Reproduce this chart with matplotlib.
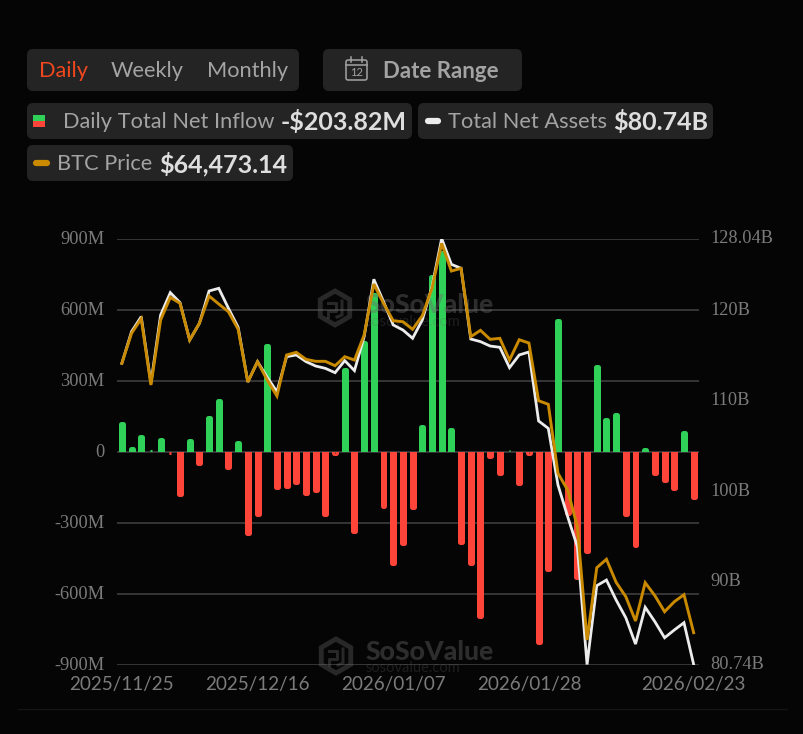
import matplotlib
matplotlib.use('Agg')
from matplotlib import pyplot as plt
from matplotlib.patches import FancyBboxPatch, Rectangle, RegularPolygon
from matplotlib.transforms import ScaledTranslation

# daily net inflow in millions, 60 trading days
inflow = [127, 21, 70, 8, 58, -13, -191, 54, -58, 151,
          222, -75, 48, -355, -276, 456, -159, -156, -141, -186,
          -173, -275, -17, 355, -346, 469, 673, -241, -483, -396,
          -246, 115, 750, 849, 100, -391, -480, -705, -30, -101,
          7, -145, -17, -814, -507, 560, -269, -541, -431, 369,
          144, 165, -275, -407, 15, -101, -131, -163, 87, -203.82]

# total net assets in billions
assets = [114.18, 117.70, 119.36, 111.96, 119.55, 122.03, 120.92, 116.77, 118.62, 122.21,
          122.51, 120.29, 118.18, 112.11, 114.37, 112.63, 111.03, 114.92, 115.11, 114.37,
          113.88, 113.62, 113.14, 114.48, 113.37, 117.14, 123.51, 121.03, 118.44, 117.88,
          116.96, 118.99, 122.69, 128.04, 125.17, 124.73, 116.88, 116.59, 116.10, 115.96,
          113.70, 115.11, 115.44, 107.78, 106.96, 100.67, 97.15, 93.82, 80.74, 89.49,
          90.12, 87.90, 85.93, 83.01, 87.09, 85.49, 83.71, 84.57, 85.38, 80.74]

# btc price in dollars
btc = [87372, 89922, 91163, 85528, 91053, 92982, 92472, 89353, 90772, 93093,
       92413, 91758, 90262, 85783, 87508, 85953, 84593, 88078, 88307, 87712,
       87542, 87542, 87168, 87933, 87653, 89778, 94113, 92472, 90993, 90908,
       90262, 91418, 93747, 97572, 95218, 95447, 89633, 90177, 89412, 89497,
       87653, 89378, 89098, 84193, 83887, 78022, 76603, 73483, 63853, 69998,
       70712, 68757, 67533, 65468, 68723, 67618, 66258, 67108, 67703, 64473.14]

left_ticks = [-900, -600, -300, 0, 300, 600, 900]
left_labels = ['-900M', '-600M', '-300M', '0', '300M', '600M', '900M']
right_ticks = [80.74, 90, 100, 110, 120, 128.04]
right_labels = ['80.74B', '90B', '100B', '110B', '120B', '128.04B']
date_ticks = [0, 14, 28, 42, 59]
date_labels = ['2025/11/25', '2025/12/16', '2026/01/07', '2026/01/28', '2026/02/23']

W, H = 804, 734
BG = '#050505'
PANEL = '#242424'
GREEN = '#30d158'
RED = '#ff453a'
GOLD = '#c98a00'
WHITE = '#ececec'
GREY = '#a3a3a3'
TICK = '#7b7b7b'
VALUE = '#dedede'

fig = plt.figure(figsize=(W / 100, H / 100), dpi=100, facecolor=BG)

# overlay in pixel coordinates for the toolbar and legend pills
ui = fig.add_axes([0, 0, 1, 1])
ui.set_xlim(0, W)
ui.set_ylim(H, 0)
ui.axis('off')


def pill(x0, y0, x1, y1):
    ui.add_patch(FancyBboxPatch((x0 + 6, y0 + 6), x1 - x0 - 12, y1 - y0 - 12,
                                boxstyle='round,pad=6,rounding_size=6',
                                fc=PANEL, ec='none'))


def label(x, y, s, color=GREY, size=15.7, weight='normal'):
    ui.text(x, y + 2, s, color=color, fontsize=size, fontweight=weight,
            family='Lato', va='center', ha='left')


pill(27, 49, 299, 91)
pill(323, 49, 522, 91)
pill(27, 103, 412, 139)
pill(418, 103, 713, 139)
pill(27, 145, 293, 181)

label(39, 69, 'Daily', color='#f0471e')
label(111, 69, 'Weekly')
label(207, 69, 'Monthly')
label(383, 69, 'Date Range', size=16, weight='bold')

# calendar icon
ui.add_patch(FancyBboxPatch((346, 60), 21, 20, boxstyle='round,pad=0,rounding_size=2',
                            fc='none', ec=GREY, lw=1.1))
ui.plot([346, 367], [65, 65], color=GREY, lw=1.1)
ui.plot([351, 351], [57, 62], color=GREY, lw=1.1)
ui.plot([362, 362], [57, 62], color=GREY, lw=1.1)
ui.text(356.5, 73, '12', color=GREY, fontsize=8, family='Lato', ha='center', va='center')

ui.add_patch(Rectangle((33, 115), 12, 6, fc=GREEN, ec='none'))
ui.add_patch(Rectangle((33, 121), 12, 6, fc=RED, ec='none'))
label(63, 120, 'Daily Total Net Inflow')
label(281, 120, '-$203.82M', color=VALUE, size=18, weight='bold')

ui.plot([428, 438], [121, 121], color=WHITE, lw=4.5, solid_capstyle='round')
label(448, 120, 'Total Net Assets')
label(613, 120, '$80.74B', color=VALUE, size=18, weight='bold')

ui.plot([36, 47], [163, 163], color=GOLD, lw=4.5, solid_capstyle='round')
label(57, 162, 'BTC Price')
label(159, 162, '$64,473.14', color=VALUE, size=18, weight='bold')

ui.plot([18, 787], [709, 709], color='#141414', lw=1)

# chart axes
ax = fig.add_axes([117 / W, 1 - 664.5 / H, (699 - 117) / W, 426 / H])
ax.set_facecolor('none')
ax.set_xlim(-0.5, 59.55)
ax.set_ylim(-900, 900)
for s in ax.spines.values():
    s.set_visible(False)
ax.set_yticks(left_ticks)
ax.set_yticklabels(left_labels)
ax.tick_params(axis='y', length=0, pad=8.8, labelcolor=TICK, labelsize=13.2)
up1 = ScaledTranslation(0, 1 / 100, fig.dpi_scale_trans)
for t in ax.get_yticklabels():
    t.set_family('Liberation Serif')
    t.set_transform(t.get_transform() + up1)
ax.set_xticks(date_ticks)
ax.set_xticklabels(date_labels)
ax.tick_params(axis='x', length=0, pad=8, labelcolor=TICK, labelsize=13.6)
for t in ax.get_xticklabels():
    t.set_family('Lato')
ax.grid(axis='y', color='#3a3a3a', lw=1.3)
ax.set_axisbelow(True)

xs = list(range(len(inflow)))
colors = [GREEN if v >= 0 else RED for v in inflow]

# thick round-joined edge gives the rounded bar tips, clip keeps them off the other side of zero
TIP = 10.6
heights = [max(abs(v) - TIP, 0) * (1 if v >= 0 else -1) for v in inflow]
bars = ax.bar(xs, heights, width=0.2, color=colors, edgecolor=colors, linewidth=3.6, zorder=3)
for b, v in zip(bars, inflow):
    b.set_joinstyle('round')
    if v >= 0:
        clip = Rectangle((-1, 0), 62, 1000, transform=ax.transData)
    else:
        clip = Rectangle((-1, -1000), 62, 1000, transform=ax.transData)
    b.set_clip_path(clip)

# watermarks sit over the bars but under the lines
WM = '#6a6a6a'
for lx, ly, tx, ty, sy in [(335, 308, 366, 305, 322), (336, 656, 366, 652, 668)]:
    ax.add_patch(RegularPolygon((lx, ly), 6, radius=17, fc='none', ec=WM, lw=3.5, alpha=0.35,
                                transform=ui.transData, clip_on=False, zorder=3.5))
    ax.plot([lx - 7, lx + 1, lx + 1, lx - 7, lx - 7], [ly - 5, ly - 5, ly + 3, ly + 3, ly + 9],
            color=WM, lw=2.2, alpha=0.35, transform=ui.transData, clip_on=False, zorder=3.5)
    ax.plot([lx + 7, lx + 7, lx + 2], [ly - 7, ly + 7, ly + 9],
            color=WM, lw=2.2, alpha=0.35, transform=ui.transData, clip_on=False, zorder=3.5)
    ax.text(tx, ty, 'SoSoValue', color=WM, alpha=0.4, fontsize=19.2, fontweight='black',
            family='Lato', va='center', transform=ui.transData, zorder=3.5)
    ax.text(tx, sy, 'sosovalue.com', color=WM, alpha=0.25, fontsize=10.5,
            family='Lato', va='center', transform=ui.transData, zorder=3.5)
ax.set_xlim(-0.5, 59.55)
ax.set_ylim(-900, 900)

# assets on the right scale
ax2 = ax.twinx()
ax2.set_ylim(80.74, 128.04)
for s in ax2.spines.values():
    s.set_visible(False)
ax2.set_yticks(right_ticks)
ax2.set_yticklabels(right_labels)
ax2.tick_params(axis='y', length=0, pad=8.2, labelcolor=TICK, labelsize=13.2)
up2 = ScaledTranslation(0, 2 / 100, fig.dpi_scale_trans)
for t in ax2.get_yticklabels():
    t.set_family('Liberation Serif')
    t.set_transform(t.get_transform() + up2)
ax2.plot(xs, assets, color=WHITE, lw=2.0, solid_joinstyle='miter', zorder=4)

# btc has its own hidden scale
ax3 = ax.twinx()
ax3.set_ylim(61770, 97983)
ax3.axis('off')
ax3.plot(xs, btc, color=GOLD, lw=2.1, solid_joinstyle='miter', zorder=5)

plt.savefig('out.png', dpi=100, facecolor=BG)
